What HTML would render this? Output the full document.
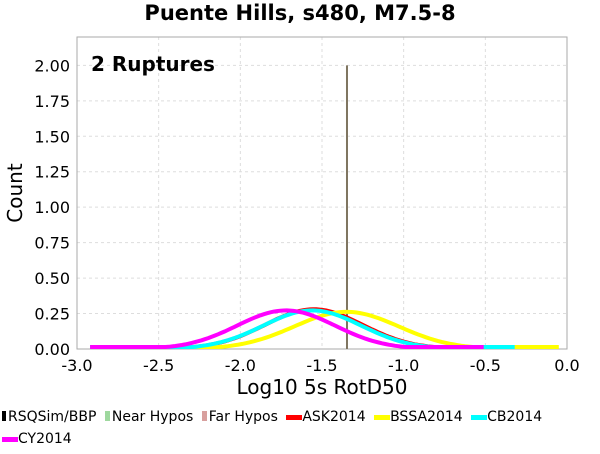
<!DOCTYPE html>
<html><head><meta charset="utf-8"><style>
body{margin:0;background:#fff;width:600px;height:450px;overflow:hidden;font-family:"DejaVu Sans","Liberation Sans",sans-serif}
</style></head><body>
<svg id="c" width="600" height="450" xmlns="http://www.w3.org/2000/svg"></svg>
<script>
const xTicks=[-3.0,-2.5,-2.0,-1.5,-1.0,-0.5,0.0];
const xTickLabels=["-3.0","-2.5","-2.0","-1.5","-1.0","-0.5","0.0"];
const yTicks=[0,0.25,0.5,0.75,1.0,1.25,1.5,1.75,2.0];
const yTickLabels=["0.00","0.25","0.50","0.75","1.00","1.25","1.50","1.75","2.00"];
const seriesNames=["ASK2014","BSSA2014","CB2014","CY2014"];
const seriesColors=["#ff0000","#ffff00","#00ffff","#ff00ff"];
const seriesMeans=[-1.55,-1.35,-1.56,-1.72];
const seriesSigmas=[0.3,0.32,0.3,0.3];
const seriesPeaks=[0.28,0.262,0.272,0.272];
const seriesStart=[-2.92,-2.92,-2.92,-2.92];
const seriesEnd=[-0.51,-0.05,-0.32,-0.51];
const bbpValue=-1.347, bbpCount=2.0;

const L=77,R=567,T=37,B=349,XMIN=-3,XMAX=0,YMIN=0,YMAX=2.2;
const sx=v=>L+(v-XMIN)/(XMAX-XMIN)*(R-L);
const sy=v=>B-(v-YMIN)/(YMAX-YMIN)*(B-T);
const svg=document.getElementById('c');const NS="http://www.w3.org/2000/svg";
function mk(t,a,txt){const e=document.createElementNS(NS,t);for(const k in a)e.setAttribute(k,a[k]);if(txt!==undefined)e.textContent=txt;svg.appendChild(e);return e;}
let e;
e=mk('rect',{x:L,y:T,width:R-L,height:B-T,fill:'#fff',stroke:'none'});


xTicks.forEach((v,i)=>{
 e=mk('line',{x1:sx(v),x2:sx(v),y1:T,y2:B,stroke:'#ddd','stroke-dasharray':'3,3'});
 
 
 e=mk('text',{x:sx(v),y:B+22,'text-anchor':'middle','font-size':'16'},xTickLabels[i]);
 
 
});
yTicks.forEach((v,i)=>{
 e=mk('line',{x1:L,x2:R,y1:sy(v),y2:sy(v),stroke:'#ddd','stroke-dasharray':'3,3'});
 
 
 e=mk('text',{x:L-7,y:sy(v)+6,'text-anchor':'end','font-size':'16'},yTickLabels[i]);
 
 
});
e=mk('rect',{x:L,y:T,width:R-L,height:B-T,fill:'none',stroke:'#aaa'});


e=mk('line',{x1:sx(bbpValue),x2:sx(bbpValue),y1:sy(0),y2:sy(bbpCount),stroke:'#7f7560','stroke-width':2});


seriesNames.forEach((n,i)=>{
 let d='';const N=120;
 for(let k=0;k<=N;k++){const x=seriesStart[i]+(seriesEnd[i]-seriesStart[i])*k/N;
  const y=seriesPeaks[i]*Math.exp(-0.5*Math.pow((x-seriesMeans[i])/seriesSigmas[i],2));
  d+=(k?'L':'M')+sx(x).toFixed(1)+','+Math.min(sy(y),B-2).toFixed(1);}
 e=mk('path',{d:d,fill:'none',stroke:seriesColors[i],'stroke-width':4});
 
 
});
e=mk('text',{x:300,y:20,'text-anchor':'middle','font-size':'21','font-weight':'bold'},'Puente Hills, s480, M7.5-8');


e=mk('text',{x:91,y:71,'font-size':'20','font-weight':'bold'},'2 Ruptures');


e=mk('text',{x:322,y:394,'text-anchor':'middle','font-size':'20'},'Log10 5s RotD50');


e=mk('text',{x:22,y:193,'text-anchor':'middle','font-size':'20',transform:'rotate(-90 22 193)'},'Count');


</script>
<div style="position:absolute;left:2px;top:406px;width:600px;font-size:14px;line-height:22px;font-family:'DejaVu Sans','Liberation Sans',sans-serif">
<span style="margin-right:4px"><span style="display:inline-block;width:4px;height:10px;background:#000;margin-right:2px"></span>RSQSim/BBP</span>
<span style="margin-right:4px"><span style="display:inline-block;width:5px;height:10px;background:#9ed89e;margin-right:2px"></span>Near Hypos</span>
<span style="margin-right:4px"><span style="display:inline-block;width:5px;height:10px;background:#d8a09e;margin-right:2px"></span>Far Hypos</span>
<span style="margin-right:4px"><span style="display:inline-block;width:16px;height:5px;background:#f00;vertical-align:middle"></span>ASK2014</span>
<span style="margin-right:4px"><span style="display:inline-block;width:16px;height:5px;background:#ff0;vertical-align:middle"></span>BSSA2014</span>
<span><span style="display:inline-block;width:16px;height:5px;background:#0ff;vertical-align:middle"></span>CB2014</span><br>
<span><span style="display:inline-block;width:16px;height:5px;background:#f0f;vertical-align:middle"></span>CY2014</span>
</div>
</body></html>
